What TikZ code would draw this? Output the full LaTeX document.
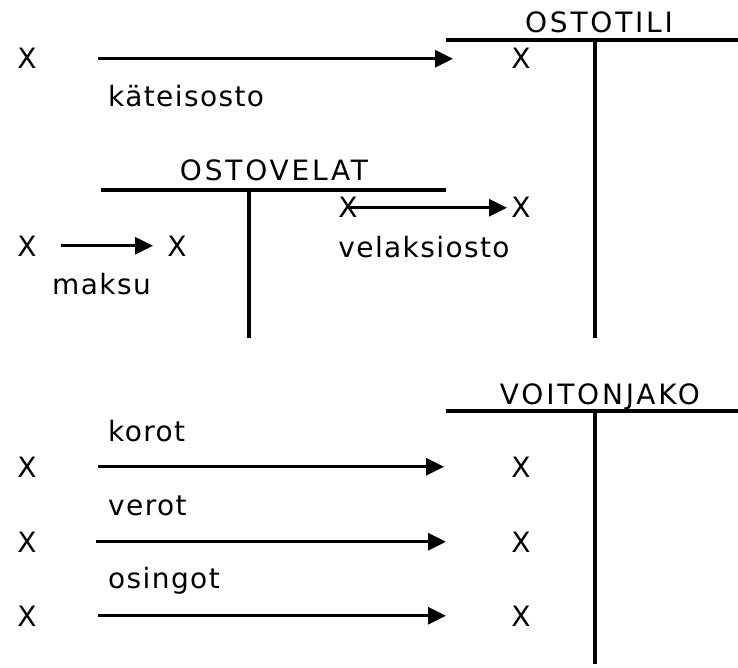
\documentclass[tikz,border=0pt]{standalone}
\usepackage{fontspec}
\setmainfont{DejaVu Sans}[LetterSpace=5]
\usetikzlibrary{arrows.meta}

\begin{document}
\begin{tikzpicture}[x=1pt,y=-1pt,
  every node/.style={inner sep=0pt,font=\fontsize{28}{33}\selectfont},
  entry/.style={anchor=base},
  word/.style={anchor=base west},
  acct/.style={anchor=base,font=\fontsize{28}{33}\selectfont\addfontfeature{LetterSpace=10}},
  tline/.style={line width=4.5pt},
  flow/.style={line width=3pt,-{Triangle[length=18pt,width=17pt]}}]

\useasboundingbox (0,0) rectangle (738,668);

% OSTOTILI account
\node[acct] (ostotili) at (599,33) {OSTOTILI};
\draw[tline] (446,40) -- (738,40);
\draw[tline] (595,40) -- (595,338);

% OSTOVELAT account
\node[acct] (ostovelat) at (274,181) {OSTOVELAT};
\draw[tline] (101,190) -- (446,190);
\draw[tline] (249,190) -- (249,338);

% VOITONJAKO account
\node[acct] (voitonjako) at (600,404) {VOITONJAKO};
\draw[tline] (446,411) -- (738,411);
\draw[tline] (595,411) -- (595,664);

% kateisosto
\node[entry] (katA) at (27,69) {X};
\node[entry] (katB) at (521,69) {X};
\node[word] (katL) at (108,107) {käteisosto};
\draw[flow,shorten <=71pt,shorten >=68pt] (katA.center) -- (katB.center);

% velaksiosto
\node[entry] (velA) at (348,218) {X};
\node[entry] (velB) at (521,218) {X};
\node[entry] (velL) at (424,257) {velaksiosto};
\draw[flow,shorten <=1pt,shorten >=14pt] (velA.center) -- (velB.center);

% maksu
\node[entry] (makA) at (27,256) {X};
\node[entry] (makB) at (177,256) {X};
\node[word] (makL) at (52,294) {maksu};
\draw[flow,shorten <=34pt,shorten >=24pt] (makA.center) -- (makB.center);

% korot
\node[word] (korL) at (108,441) {korot};
\node[entry] (korA) at (27,477) {X};
\node[entry] (korB) at (521,477) {X};
\draw[flow,shorten <=71pt,shorten >=77pt] (korA.center) -- (korB.center);

% verot
\node[word] (verL) at (108,515) {verot};
\node[entry] (verA) at (27,552) {X};
\node[entry] (verB) at (521,552) {X};
\draw[flow,shorten <=69pt,shorten >=75pt] (verA.center) -- (verB.center);

% osingot
\node[word] (osiL) at (108,588) {osingot};
\node[entry] (osiA) at (27,626) {X};
\node[entry] (osiB) at (521,626) {X};
\draw[flow,shorten <=71pt,shorten >=75pt] (osiA.center) -- (osiB.center);

\end{tikzpicture}
\end{document}
